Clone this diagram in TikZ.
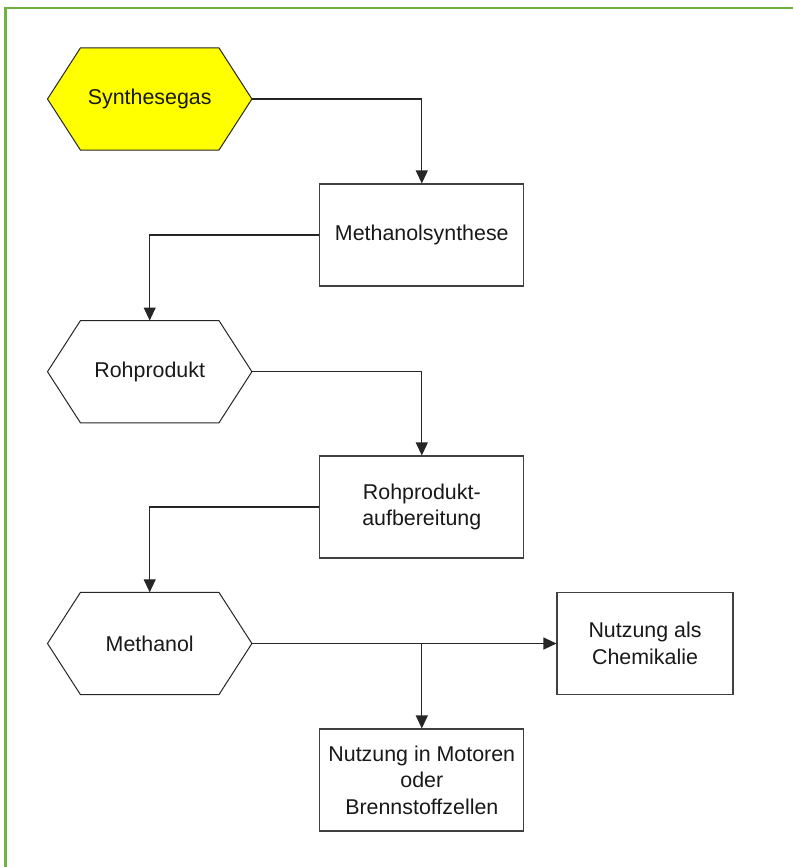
\documentclass[tikz,border=0pt]{standalone}
\usepackage{fontspec}
\setmainfont{Liberation Sans}
\usetikzlibrary{arrows.meta,backgrounds}
\definecolor{framegreen}{RGB}{112,178,66}
\definecolor{hexyellow}{RGB}{255,255,0}
\tikzset{
  lbl/.style={font=\fontsize{21.4}{26.5}\selectfont, align=center, text=black!90},
  procbox/.style={lbl, draw=black!75, line width=1.1pt, minimum width=204pt, minimum height=102pt, inner sep=0pt},
  hexbox/.style={lbl, minimum width=204pt, minimum height=102pt, inner sep=0pt},
  hexline/.style={draw=black!85, line width=1pt, line join=miter},
  flow/.style={draw=black!85, line width=1.1pt, -{Triangle[length=13pt,width=12pt]}}
}
% draws the hexagon outline around a hexbox node
\newcommand{\hexoutline}[2]{%
  \begin{scope}[on background layer]
    \path[hexline,#2] (#1.west) -- ([xshift=33pt]#1.north west) -- ([xshift=-33pt]#1.north east)
      -- (#1.east) -- ([xshift=-33pt]#1.south east) -- ([xshift=33pt]#1.south west) -- cycle;
  \end{scope}}
\begin{document}
\begin{tikzpicture}[x=1pt,y=-1pt]
  \useasboundingbox (0,0) rectangle (793,867);
  \begin{scope}[on background layer]
    \fill[white] (0,0) rectangle (793,867);
  \end{scope}

  % frame
  \draw[framegreen, line width=2.8pt] (5.8,867) -- (5.8,8) -- (793,8);

  % nodes
  \node[hexbox] (syn) at (149.7,99) {Synthesegas};
  \hexoutline{syn}{fill=hexyellow}
  \node[procbox] (ms) at (421.8,235) {Methanolsynthese};
  \node[hexbox] (rp) at (149.7,371.7) {Rohprodukt};
  \hexoutline{rp}{fill=white}
  \node[procbox] (ra) at (421.8,507) {Rohprodukt-\\aufbereitung};
  \node[hexbox] (me) at (149.7,643.5) {Methanol};
  \hexoutline{me}{fill=white}
  \node[procbox, minimum width=176pt] (ch) at (645,643.5) {Nutzung als\\Chemikalie};
  \node[procbox] (mo) at (421.8,780) {Nutzung in Motoren\\oder\\Brennstoffzellen};

  % connectors
  \draw[flow] (syn.east) -| (ms.north);
  \draw[flow] (ms.west) -| (rp.north);
  \draw[flow] (rp.east) -| (ra.north);
  \draw[flow] (ra.west) -| (me.north);
  \draw[flow] (me.east) -- (ch.west);
  \coordinate (br) at (me.east -| mo.north);
  \draw[flow] (br) -- (mo.north);
\end{tikzpicture}
\end{document}
